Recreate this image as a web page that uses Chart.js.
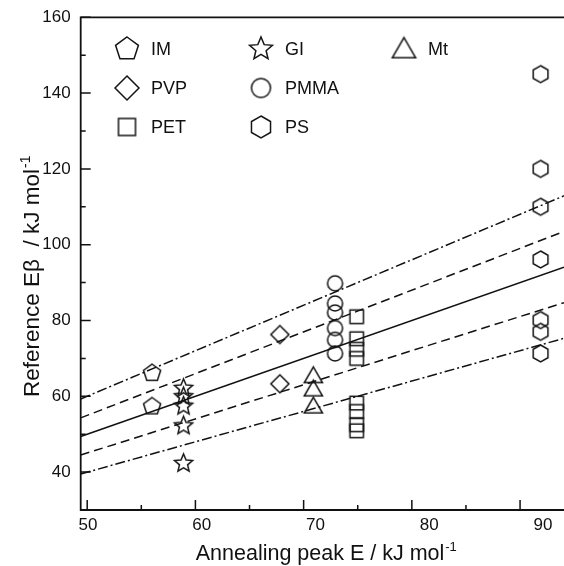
<!DOCTYPE html>
<html>
<head>
<meta charset="utf-8">
<script src="https://cdn.jsdelivr.net/npm/chart.js@4.4.0/dist/chart.umd.min.js"></script>
<style>
  html, body { margin: 0; padding: 0; background: #fff; overflow: hidden; }
  #wrap { width: 564px; height: 566px; }
  canvas { display: block; }
</style>
</head>
<body>
<div id="wrap"><canvas id="chart"></canvas></div>
<script>
// values (kJ/mol)
const imX = [56, 56];
const imY = [66.1, 57.3];
const giX = [58.9, 58.9, 58.9, 58.9, 58.9];
const giY = [62.1, 59.9, 57.4, 52.2, 42.3];
const mtX = [70.9, 70.9, 70.9];
const mtY = [65.4, 61.9, 57.4];
const pvpX = [67.8, 67.8];
const pvpY = [76.3, 63.3];
const pmmaX = [72.9, 72.9, 72.9, 72.9, 72.9, 72.9];
const pmmaY = [89.8, 84.5, 82.1, 78.0, 74.9, 71.3];
const petX = [74.9, 74.9, 74.9, 74.9, 74.9, 74.9, 74.9, 74.9];
const petY = [81.0, 75.2, 72.4, 70.0, 58.2, 56.0, 52.5, 50.9];
const psX = [91.9, 91.9, 91.9, 91.9, 91.9, 91.9, 91.9];
const psY = [145, 120, 110, 96.1, 80.1, 77.0, 71.3];

// reference lines (end points)
const lineX = [49.4, 94.06];
const fitY = [49.4, 94.06];
const plus10Y = [54.3, 103.5];
const minus10Y = [44.5, 84.7];
const plus20Y = [59.3, 112.9];
const minus20Y = [39.5, 75.3];

const xMajorTicks = [50, 60, 70, 80, 90];
const xMinorTicks = [55, 65, 75, 85];
const yMajorTicks = [40, 60, 80, 100, 120, 140, 160];
const yMinorTicks = [50, 70, 90, 110, 130, 150];

const FONT = "'Liberation Sans', Arial, Helvetica, sans-serif";
const INK = "#111";

function makeMarker(shape, r) {
  const c = document.createElement("canvas");
  c.width = c.height = Math.ceil(2 * r + 6);
  const ctx = c.getContext("2d");
  ctx.translate(c.width / 2, c.height / 2);
  ctx.strokeStyle = "#151515";
  ctx.lineWidth = 1.5;
  ctx.lineJoin = "miter";
  ctx.beginPath();
  if (shape === "circle") {
    ctx.arc(0, 0, r, 0, Math.PI * 2);
  } else if (shape === "square") {
    ctx.rect(-r, -r, 2 * r, 2 * r);
  } else {
    const n = { pentagon: 5, star: 10, triangle: 3, diamond: 4, hexagon: 6 }[shape];
    for (let i = 0; i < n; i++) {
      const ang = -Math.PI / 2 + (i * 2 * Math.PI) / n;
      const rr = shape === "star" && i % 2 ? r * 0.45 : r;
      const px = rr * Math.cos(ang);
      const py = rr * Math.sin(ang) + (shape === "triangle" ? r * 0.15 : 0);
      if (i === 0) ctx.moveTo(px, py);
      else ctx.lineTo(px, py);
    }
  }
  ctx.closePath();
  ctx.stroke();
  return c;
}

function pts(xs, ys) {
  return xs.map((x, i) => ({ x: x, y: ys[i] }));
}

const series = [
  { label: "IM", xs: imX, ys: imY, shape: "pentagon", r: 9, lr: 12 },
  { label: "GI", xs: giX, ys: giY, shape: "star", r: 9.5, lr: 12 },
  { label: "Mt", xs: mtX, ys: mtY, shape: "triangle", r: 10.5, lr: 13.5 },
  { label: "PVP", xs: pvpX, ys: pvpY, shape: "diamond", r: 9, lr: 12 },
  { label: "PMMA", xs: pmmaX, ys: pmmaY, shape: "circle", r: 7.5, lr: 9.5 },
  { label: "PET", xs: petX, ys: petY, shape: "square", r: 6.7, lr: 8.5 },
  { label: "PS", xs: psX, ys: psY, shape: "hexagon", r: 8.5, lr: 11 },
];

// legend grid: column, row
const legendSlots = {
  IM: [0, 0], PVP: [0, 1], PET: [0, 2],
  GI: [1, 0], PMMA: [1, 1], PS: [1, 2],
  Mt: [2, 0],
};
const legendColX = [127, 261, 404];
const legendRowY = [49, 88, 127];

function refLine(ys, dash) {
  return {
    type: "scatter",
    data: pts(lineX, ys),
    showLine: true,
    borderColor: "#111",
    borderWidth: 1.5,
    borderDash: dash,
    pointRadius: 0,
    xAxisID: "x",
    yAxisID: "y",
  };
}

const datasets = [
  refLine(fitY, []),
  refLine(plus10Y, [9, 5]),
  refLine(minus10Y, [9, 5]),
  refLine(plus20Y, [10, 3, 2, 3]),
  refLine(minus20Y, [10, 3, 2, 3]),
];
series.forEach((s) => {
  s.icon = makeMarker(s.shape, s.r);
  s.legendIcon = makeMarker(s.shape, s.lr);
  datasets.push({
    type: "scatter",
    label: s.label,
    data: pts(s.xs, s.ys),
    pointStyle: s.icon,
    pointRadius: 8,
    xAxisID: "x",
    yAxisID: "y",
  });
});

function drawSup(ctx, main, sup, x, y, size) {
  ctx.font = size + "px " + FONT;
  ctx.fillText(main, x, y);
  const w = ctx.measureText(main).width;
  ctx.font = Math.round(size * 0.62) + "px " + FONT;
  ctx.fillText(sup, x + w + 1, y - size * 0.4);
  return w + 1 + ctx.measureText(sup).width;
}

// no automatic side padding: the plot runs to the right edge of the picture
function noPad(s) {
  s.paddingLeft = 0;
  s.paddingRight = 0;
  s.paddingTop = 0;
  s.paddingBottom = 0;
}

const decorations = {
  id: "decorations",
  afterDraw(chart) {
    const { ctx, chartArea: a } = chart;
    const xs = chart.scales.x;
    const ys = chart.scales.y;
    ctx.save();
    ctx.strokeStyle = INK;

    // frame: left, bottom and top (right side lies beyond the picture)
    ctx.lineWidth = 1.8;
    ctx.beginPath();
    ctx.moveTo(a.right + 2, a.top);
    ctx.lineTo(a.left, a.top);
    ctx.lineTo(a.left, a.bottom);
    ctx.lineTo(a.right + 2, a.bottom);
    ctx.stroke();

    // inward ticks
    ctx.lineWidth = 1.5;
    ctx.beginPath();
    xMajorTicks.forEach((v) => {
      const p = xs.getPixelForValue(v);
      ctx.moveTo(p, a.bottom);
      ctx.lineTo(p, a.bottom - 10);
    });
    xMinorTicks.forEach((v) => {
      const p = xs.getPixelForValue(v);
      ctx.moveTo(p, a.bottom);
      ctx.lineTo(p, a.bottom - 5);
    });
    yMajorTicks.forEach((v) => {
      const p = ys.getPixelForValue(v);
      ctx.moveTo(a.left, p);
      ctx.lineTo(a.left + 10, p);
    });
    yMinorTicks.forEach((v) => {
      const p = ys.getPixelForValue(v);
      ctx.moveTo(a.left, p);
      ctx.lineTo(a.left + 5, p);
    });
    ctx.stroke();

    // legend inside the plot
    ctx.fillStyle = INK;
    ctx.textBaseline = "middle";
    ctx.textAlign = "left";
    ctx.font = "18px " + FONT;
    series.forEach((s) => {
      const [c, r] = legendSlots[s.label];
      const mx = legendColX[c];
      const my = legendRowY[r];
      const ic = s.legendIcon;
      ctx.drawImage(ic, mx - ic.width / 2, my - ic.height / 2);
      ctx.fillText(s.label, mx + 24, my + 1);
    });

    // axis titles
    ctx.textBaseline = "alphabetic";
    ctx.textAlign = "left";
    ctx.font = "21.5px " + FONT;
    const xMain = "Annealing peak E / kJ mol";
    const xw = ctx.measureText(xMain).width + 12;
    drawSup(ctx, xMain, "-1", 326 - xw / 2, 560, 21.5);

    ctx.translate(38.5, 397);
    ctx.rotate(-Math.PI / 2);
    drawSup(ctx, "Reference E\u03b2  / kJ mol", "-1", 0, 0, 22.5);
    ctx.restore();
  },
};

new Chart(document.getElementById("chart"), {
  type: "scatter",
  data: { datasets: datasets },
  options: {
    responsive: true,
    maintainAspectRatio: false,
    animation: false,
    devicePixelRatio: 1,
    layout: {
      autoPadding: false,
      padding: { top: 17.3, right: 0, bottom: 0, left: 0 },
    },
    plugins: {
      legend: { display: false },
      tooltip: { enabled: false },
    },
    scales: {
      x: {
        type: "linear",
        position: "bottom",
        min: 49.4,
        max: 94.06,
        grid: { display: false, drawTicks: false },
        border: { display: false },
        ticks: { display: false },
        afterFit: (s) => { s.height = 0; noPad(s); },
      },
      // label row: in the original the numbers sit slightly off their ticks
      xl: {
        type: "linear",
        position: "bottom",
        weight: 1,
        min: 49.36,
        max: 91.85,
        grid: { display: false, drawTicks: false },
        border: { display: false },
        ticks: {
          stepSize: 10,
          includeBounds: false,
          padding: 5,
          maxRotation: 0,
          color: INK,
          font: { family: FONT, size: 17 },
        },
        afterFit: (s) => { s.height = 56; noPad(s); },
      },
      y: {
        type: "linear",
        position: "left",
        min: 30,
        max: 160,
        grid: { display: false, drawTicks: false },
        border: { display: false },
        ticks: {
          stepSize: 20,
          includeBounds: false,
          padding: 10,
          color: INK,
          font: { family: FONT, size: 17 },
        },
        afterFit: (s) => { s.width = 80.7; noPad(s); },
      },
    },
  },
  plugins: [decorations],
});
</script>
</body>
</html>
